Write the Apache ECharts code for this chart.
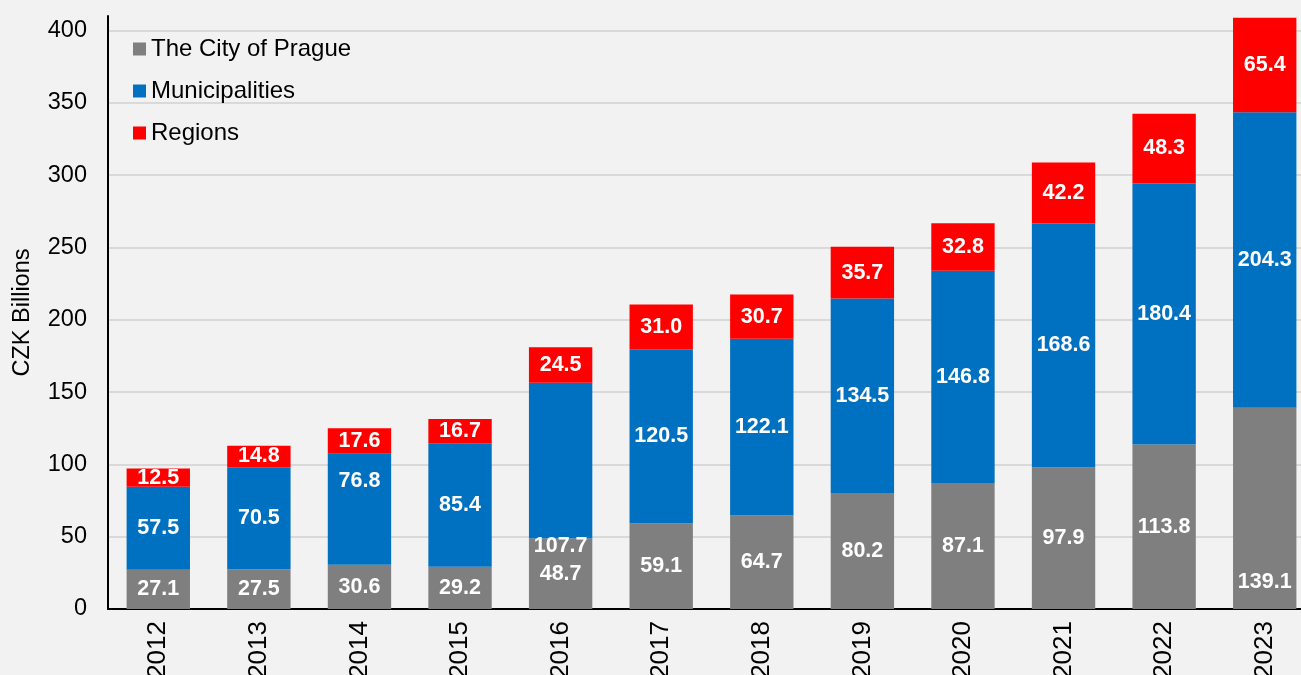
<!DOCTYPE html>
<html>
<head>
<meta charset="utf-8">
<script src="https://cdn.jsdelivr.net/npm/echarts@6/dist/echarts.min.js"></script>
<style>
html,body{margin:0;padding:0;background:#f2f2f2;}
#chart{width:1301px;height:675px;}
</style>
</head>
<body>
<div id="chart"></div>
<script>
const years = ['2012','2013','2014','2015','2016','2017','2018','2019','2020','2021','2022','2023'];
const prague = [27.1,27.5,30.6,29.2,48.7,59.1,64.7,80.2,87.1,97.9,113.8,139.1];
const municipalities = [57.5,70.5,76.8,85.4,107.7,120.5,122.1,134.5,146.8,168.6,180.4,204.3];
const regions = [12.5,14.8,17.6,16.7,24.5,31.0,30.7,35.7,32.8,42.2,48.3,65.4];
const seriesNames = ['The City of Prague','Municipalities','Regions'];
const yTicks = [0,50,100,150,200,250,300,350,400];

// label nudges (pixel offsets) matching the reference's hand-placed labels
const nudges = {
  'The City of Prague': {11: 74},
  'Municipalities': {2: -28, 4: 85}
};

const FONT = 'Arial, "Liberation Sans", sans-serif';
const colors = ['#7f7f7f','#0070c0','#ff0000'];

function makeData(name, arr){
  return arr.map((v,i)=>{
    const n = nudges[name] && nudges[name][i];
    if (n !== undefined) return {value:v, label:{offset:[0,n]}};
    return v;
  });
}

const chart = echarts.init(document.getElementById('chart'));
chart.setOption({
  backgroundColor:'#f2f2f2',
  animation:false,
  grid:{left:108, top:16, bottom:66, width:1207, containLabel:false, outerBoundsMode:'none'},
  legend:{
    orient:'vertical', left:128, top:32,
    icon:'rect', itemWidth:13, itemHeight:13, itemGap:18,
    textStyle:{fontFamily:FONT, fontSize:24, color:'#000'},
    data:seriesNames
  },
  xAxis:{
    type:'category', data:years,
    axisLine:{lineStyle:{color:'#000', width:2}},
    axisTick:{show:false},
    axisLabel:{rotate:90, fontFamily:FONT, fontSize:26, color:'#000', margin:12}
  },
  yAxis:{
    type:'value', min:yTicks[0], max:410, interval:yTicks[1]-yTicks[0],
    name:'CZK Billions', nameLocation:'middle', nameGap:73, nameRotate:90,
    nameTextStyle:{fontFamily:FONT, fontSize:23.5, color:'#000'},
    axisLine:{show:true, lineStyle:{color:'#000', width:2}},
    axisTick:{show:false},
    axisLabel:{fontFamily:FONT, fontSize:23.5, color:'#000', margin:21, showMaxLabel:false},
    splitLine:{show:true, showMaxLine:false, lineStyle:{color:'#d9d9d9', width:2}}
  },
  series:[prague, municipalities, regions].map((arr,k)=>({
    name:seriesNames[k], type:'bar', stack:'total', barWidth:'63%',
    itemStyle:{color:colors[k]},
    label:{show:true, position:'inside', color:'#fff', fontFamily:FONT, fontWeight:'bold', fontSize:21.5,
      formatter:p=>p.value.toFixed(1)},
    data:makeData(seriesNames[k], arr)
  }))
});
</script>
</body>
</html>
